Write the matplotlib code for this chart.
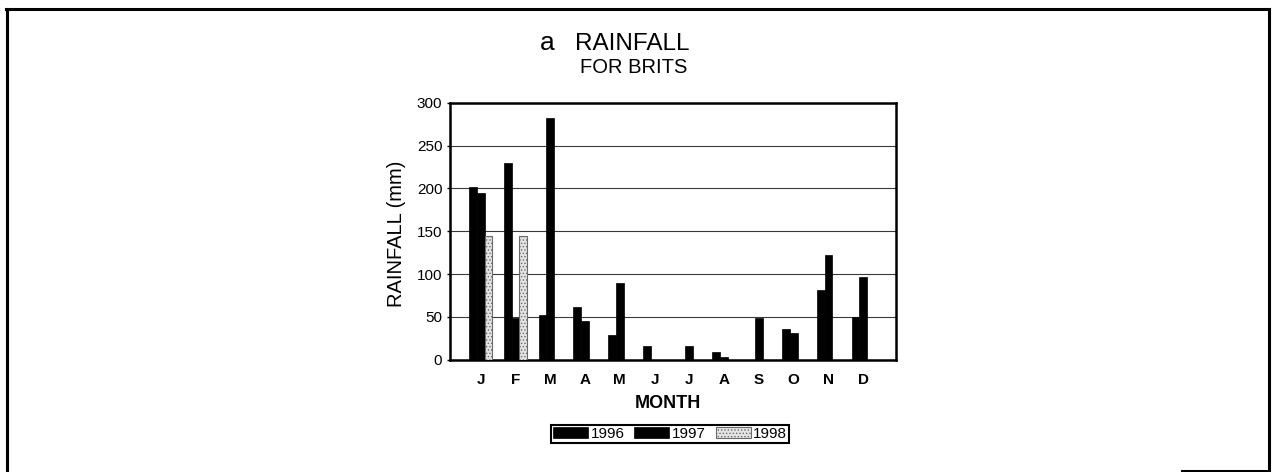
import numpy as np
import matplotlib
matplotlib.use("Agg")
import matplotlib.pyplot as plt
from matplotlib.lines import Line2D

plt.rcParams['font.family'] = ['Liberation Sans', 'DejaVu Sans']
plt.rcParams['hatch.linewidth'] = 0.6

months = ['J', 'F', 'M', 'A', 'M', 'J', 'J', 'A', 'S', 'O', 'N', 'D']
years = ['1996', '1997', '1998']
rain_1996 = [202, 230, 52, 61, 29, 16, 0, 9, 0, 36, 81, 50]
rain_1997 = [195, 48, 283, 45, 90, 0, 16, 3, 48, 31, 122, 96]
rain_1998 = [145, 145, 0, 0, 0, 0, 0, 0, 0, 0, 0, 0]
yticks = [0, 50, 100, 150, 200, 250, 300]

W, H = 1272, 472


def fx(px):
    return px / W


def fy(py):
    return 1 - py / H


fig = plt.figure(figsize=(W / 100, H / 100), dpi=100)
ax = fig.add_axes([fx(450), fy(359.5), fx(896) - fx(450), fy(103) - fy(359.5)])

x = np.arange(len(months))
bw = 0.224
ax.bar(x - bw, rain_1996, bw, color='black', edgecolor='black', lw=0.5, label=years[0], zorder=3)
ax.bar(x, rain_1997, bw, color='black', edgecolor='black', lw=0.5, label=years[1], zorder=3)
ax.bar(x + bw, rain_1998, bw, color='#e4e4e4', edgecolor='#6a6a6a', lw=0.8,
       hatch='.....', label=years[2], zorder=3)

ax.set_xlim(-0.88, 11.94)
ax.set_ylim(0, 300)
ax.set_yticks(yticks)
ax.set_xticks(x)
ax.set_xticklabels(months, fontsize=11, fontweight='bold')
ax.tick_params(axis='x', length=0, pad=10)
ax.tick_params(axis='y', length=2, width=1, pad=3.5, labelsize=11)
ax.yaxis.grid(True, color='#3a3a3a', lw=0.8)
ax.set_axisbelow(True)
for s in ax.spines.values():
    s.set_linewidth(1.8)

ax.set_ylabel('RAINFALL (mm)', fontsize=14.5)
ax.yaxis.set_label_coords((397 - 450) / 446, 0.49)
ax.yaxis.label.set_va('center')
ax.set_xlabel('MONTH', fontsize=13, fontweight='bold')
ax.xaxis.set_label_coords((668 - 450) / 446, (359.5 - 403) / 256.5)
ax.xaxis.label.set_va('center')

# title
fig.text(fx(540), fy(50), 'a', fontsize=19, va='baseline', ha='left')
fig.text(fx(575), fy(50), 'RAINFALL', fontsize=17.5, va='baseline', ha='left')
fig.text(fx(580), fy(73), 'FOR BRITS', fontsize=14.5, va='baseline', ha='left')

leg = fig.legend(loc='center', bbox_to_anchor=(fx(670), fy(434)), ncol=3,
                 fontsize=11, frameon=True, fancybox=False, edgecolor='black',
                 framealpha=1, handlelength=2.3, handleheight=0.72,
                 handletextpad=0.15, columnspacing=0.65, borderpad=0.15,
                 borderaxespad=0)
leg.get_frame().set_linewidth(1.5)

# outer frame
lw = 2.2
fig.add_artist(Line2D([fx(6.5), fx(6.5)], [fy(8.5), fy(472)], color='black', lw=lw, transform=fig.transFigure))
fig.add_artist(Line2D([fx(5.5), fx(1269)], [fy(8.5), fy(8.5)], color='black', lw=lw, transform=fig.transFigure))
fig.add_artist(Line2D([fx(1268.5), fx(1268.5)], [fy(8.5), fy(472)], color='black', lw=lw, transform=fig.transFigure))
fig.add_artist(Line2D([fx(1182), fx(1269)], [fy(470.5), fy(470.5)], color='black', lw=lw, transform=fig.transFigure))

fig.savefig('out.png', dpi=100)
